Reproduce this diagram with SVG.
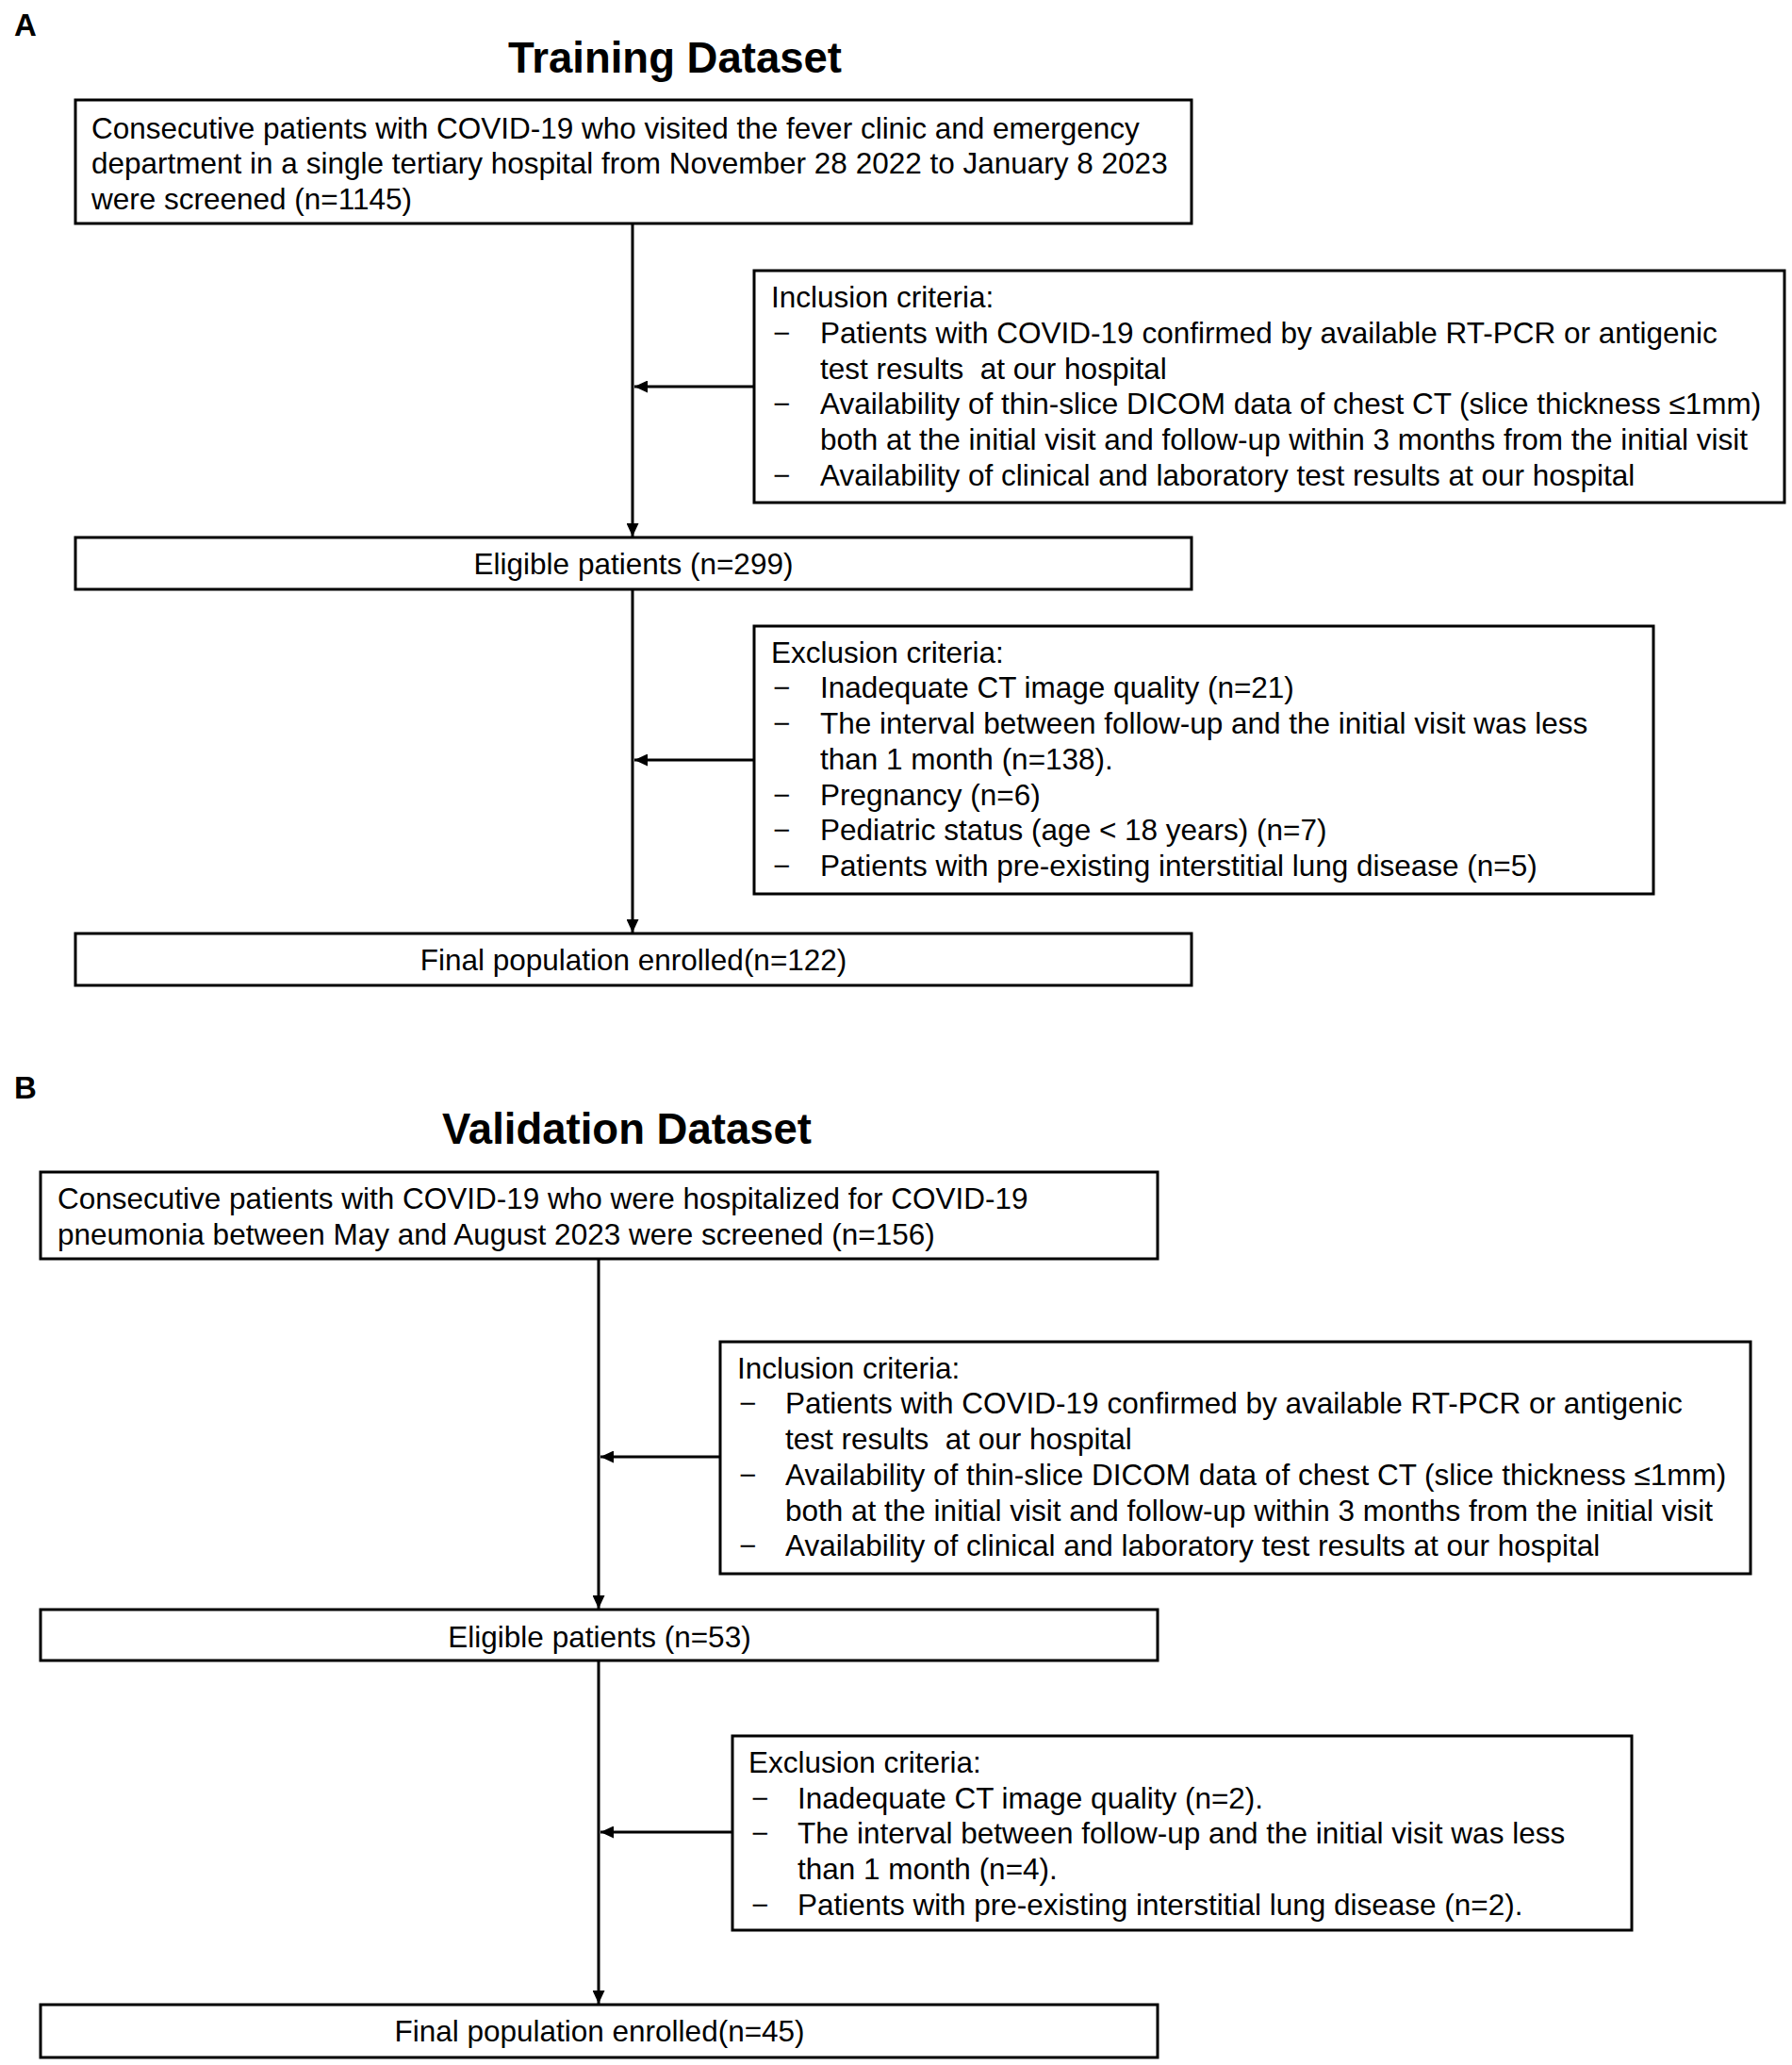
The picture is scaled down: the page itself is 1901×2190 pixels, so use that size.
<svg xmlns="http://www.w3.org/2000/svg" width="1901" height="2190" viewBox="0 0 1901 2190">
<style>
.bg{fill:#ffffff}
.box{fill:#ffffff;stroke:#000000;stroke-width:3}
.t{font-family:"Liberation Sans",Arial,sans-serif;font-size:31.5px;fill:#000000}
.c{text-anchor:middle}
.title{font-family:"Liberation Sans",Arial,sans-serif;font-size:45.5px;font-weight:bold;fill:#000000;text-anchor:middle}
.lbl{font-family:"Liberation Sans",Arial,sans-serif;font-size:33px;font-weight:bold;fill:#000000}
.v{stroke:#000000;stroke-width:3;fill:none}
.h{stroke:#000000;stroke-width:3;fill:none}
</style>
<defs>
<marker id="ah" viewBox="0 0 14 13" refX="14" refY="6.5" markerWidth="14" markerHeight="13" markerUnits="userSpaceOnUse" orient="auto">
<path d="M0,0 L14,6.5 L0,13 z" fill="#000000"/>
</marker>
</defs>
<rect class="bg" x="0" y="0" width="1901" height="2190"/>

<text class="lbl" x="15" y="38">A</text>
<text class="title" x="716" y="77">Training Dataset</text>

<g id="connectors">
<line class="v" x1="671" y1="238" x2="671" y2="569" marker-end="url(#ah)"/>
<line class="h" x1="800" y1="410" x2="673" y2="410" marker-end="url(#ah)"/>
<line class="v" x1="671" y1="625" x2="671" y2="989" marker-end="url(#ah)"/>
<line class="h" x1="800" y1="806" x2="673" y2="806" marker-end="url(#ah)"/>
<line class="v" x1="635" y1="1335" x2="635" y2="1706" marker-end="url(#ah)"/>
<line class="h" x1="764" y1="1545" x2="637" y2="1545" marker-end="url(#ah)"/>
<line class="v" x1="635" y1="1761" x2="635" y2="2125" marker-end="url(#ah)"/>
<line class="h" x1="777" y1="1943" x2="637" y2="1943" marker-end="url(#ah)"/>
</g>

<g id="a-screened">
<rect class="box" x="80" y="106" width="1184" height="131"/>
<text class="t" x="97" y="147">Consecutive patients with COVID-19 who visited the fever clinic and emergency</text>
<text class="t" x="97" y="184">department in a single tertiary hospital from November 28 2022 to January 8 2023</text>
<text class="t" x="97" y="222">were screened (n=1145)</text>
</g>

<g id="a-inclusion">
<rect class="box" x="800" y="287" width="1093" height="246"/>
<text class="t" x="818" y="326">Inclusion criteria:</text>
<text class="t" x="820" y="364">−</text>
<text class="t" x="870" y="364">Patients with COVID-19 confirmed by available RT-PCR or antigenic</text>
<text class="t" x="870" y="402" xml:space="preserve">test results  at our hospital</text>
<text class="t" x="820" y="439">−</text>
<text class="t" x="870" y="439">Availability of thin-slice DICOM data of chest CT (slice thickness ≤1mm)</text>
<text class="t" x="870" y="477">both at the initial visit and follow-up within 3 months from the initial visit</text>
<text class="t" x="820" y="515">−</text>
<text class="t" x="870" y="515">Availability of clinical and laboratory test results at our hospital</text>
</g>

<g id="a-eligible">
<rect class="box" x="80" y="570" width="1184" height="55"/>
<text class="t c" x="672" y="609">Eligible patients (n=299)</text>
</g>

<g id="a-exclusion">
<rect class="box" x="800" y="664" width="954" height="284"/>
<text class="t" x="818" y="703">Exclusion criteria:</text>
<text class="t" x="820" y="740">−</text>
<text class="t" x="870" y="740">Inadequate CT image quality (n=21)</text>
<text class="t" x="820" y="778">−</text>
<text class="t" x="870" y="778">The interval between follow-up and the initial visit was less</text>
<text class="t" x="870" y="816">than 1 month (n=138).</text>
<text class="t" x="820" y="854">−</text>
<text class="t" x="870" y="854">Pregnancy (n=6)</text>
<text class="t" x="820" y="891">−</text>
<text class="t" x="870" y="891">Pediatric status (age &lt; 18 years) (n=7)</text>
<text class="t" x="820" y="929">−</text>
<text class="t" x="870" y="929">Patients with pre-existing interstitial lung disease (n=5)</text>
</g>

<g id="a-final">
<rect class="box" x="80" y="990" width="1184" height="55"/>
<text class="t c" x="672" y="1029">Final population enrolled(n=122)</text>
</g>

<text class="lbl" x="15" y="1165">B</text>
<text class="title" x="665" y="1213">Validation Dataset</text>

<g id="b-screened">
<rect class="box" x="43" y="1243" width="1185" height="92"/>
<text class="t" x="61" y="1282">Consecutive patients with COVID-19 who were hospitalized for COVID-19</text>
<text class="t" x="61" y="1320">pneumonia between May and August 2023 were screened (n=156)</text>
</g>

<g id="b-inclusion">
<rect class="box" x="764" y="1423" width="1093" height="246"/>
<text class="t" x="782" y="1462">Inclusion criteria:</text>
<text class="t" x="784" y="1499">−</text>
<text class="t" x="833" y="1499">Patients with COVID-19 confirmed by available RT-PCR or antigenic</text>
<text class="t" x="833" y="1537" xml:space="preserve">test results  at our hospital</text>
<text class="t" x="784" y="1575">−</text>
<text class="t" x="833" y="1575">Availability of thin-slice DICOM data of chest CT (slice thickness ≤1mm)</text>
<text class="t" x="833" y="1613">both at the initial visit and follow-up within 3 months from the initial visit</text>
<text class="t" x="784" y="1650">−</text>
<text class="t" x="833" y="1650">Availability of clinical and laboratory test results at our hospital</text>
</g>

<g id="b-eligible">
<rect class="box" x="43" y="1707" width="1185" height="54"/>
<text class="t c" x="636" y="1747">Eligible patients (n=53)</text>
</g>

<g id="b-exclusion">
<rect class="box" x="777" y="1841" width="954" height="206"/>
<text class="t" x="794" y="1880">Exclusion criteria:</text>
<text class="t" x="797" y="1918">−</text>
<text class="t" x="846" y="1918">Inadequate CT image quality (n=2).</text>
<text class="t" x="797" y="1955">−</text>
<text class="t" x="846" y="1955">The interval between follow-up and the initial visit was less</text>
<text class="t" x="846" y="1993">than 1 month (n=4).</text>
<text class="t" x="797" y="2031">−</text>
<text class="t" x="846" y="2031">Patients with pre-existing interstitial lung disease (n=2).</text>
</g>

<g id="b-final">
<rect class="box" x="43" y="2126" width="1185" height="56"/>
<text class="t c" x="636" y="2165">Final population enrolled(n=45)</text>
</g>
</svg>
